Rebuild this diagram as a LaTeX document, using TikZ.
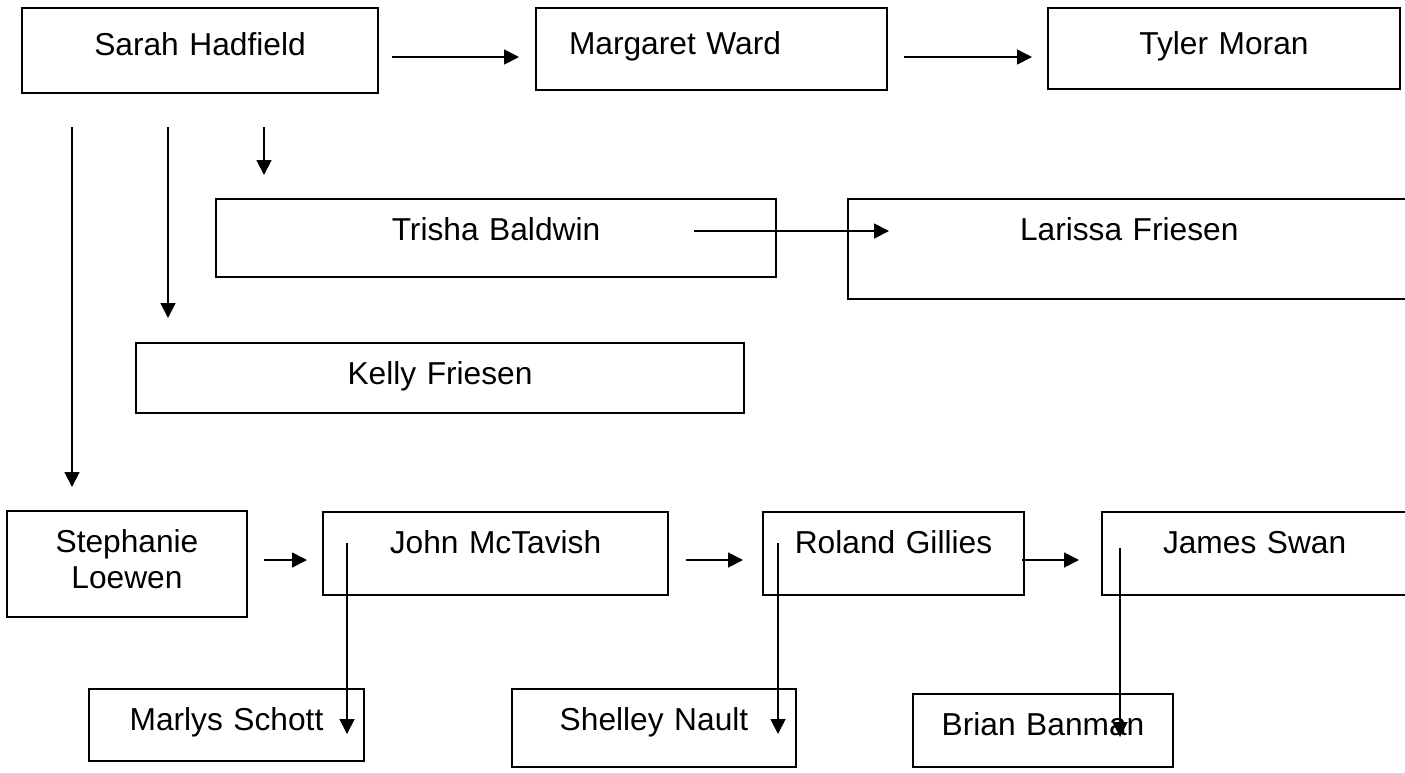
\documentclass[tikz,border=0pt]{standalone}
\usepackage{fontspec}
\setmainfont{Liberation Sans}
\usetikzlibrary{arrows.meta}
\newcommand{\namefont}{\fontsize{31.7}{36}\selectfont}
\tikzset{
  person/.style={draw, line width=1.8pt, anchor=north west, inner sep=0pt,
    outer sep=0pt, text height=41pt, align=center, font=\namefont},
  link/.style={line width=1.8pt, -{Triangle[length=15pt,width=15pt]}}
}

\begin{document}
\begin{tikzpicture}[x=1pt,y=-1pt]
\fill[white] (0,0) rectangle (1405,772);
\clip (0,0) rectangle (1405,772);
% top row
\node[person, text width=356pt, text height=47pt, text depth=38pt] (sarah) at (22,8) {Sarah Hadfield};
\node[person, text width=351pt, text height=46pt, text depth=36pt, align=left] (margaret) at (536,8) {\hspace*{33pt}Margaret Ward};
\node[person, text width=352pt, text height=46pt, text depth=35pt] (tyler) at (1048,8) {Tyler Moran};
% middle
\node[person, text width=560pt, text depth=37pt] (trisha) at (216,199) {Trisha Baldwin};
\node[person, text width=620pt, text depth=59pt, align=left] (larissa) at (848,199) {\hspace*{172pt}Larissa Friesen};
\node[person, text width=608pt, text depth=29pt] (kelly) at (136,343) {Kelly Friesen};
% bottom rows
\node[person, text width=240pt, text depth=65pt] (stephanie) at (7,511) {Stephanie\\Loewen};
\node[person, text width=345pt, text depth=42pt] (john) at (323,512) {John McTavish};
\node[person, text width=261pt, text depth=42pt] (roland) at (763,512) {Roland Gillies};
\node[person, text width=360pt, text depth=42pt, align=left] (james) at (1102,512) {\hspace*{61pt}James Swan};
\node[person, text width=275pt, text depth=31pt] (marlys) at (89,689) {Marlys Schott};
\node[person, text width=284pt, text depth=37pt] (shelley) at (512,689) {Shelley Nault};
\node[person, text width=260pt, text depth=32pt] (brian) at (913,694) {Brian Banman};

\draw[link] ([shift={(14,49)}]sarah.north east) -- ([shift={(-17,49)}]margaret.north west);
\draw[link] ([shift={(17,49)}]margaret.north east) -- ([shift={(-16,49)}]tyler.north west);
\draw[link] ([shift={(50,34)}]sarah.south west) -- ([shift={(65,-24)}]stephanie.north west);
\draw[link] ([shift={(146,34)}]sarah.south west) -- ([shift={(32,-25)}]kelly.north west);
\draw[link] ([shift={(242,34)}]sarah.south west) -- ([shift={(48,-24)}]trisha.north west);
\draw[link] ([shift={(-82,32)}]trisha.north east) -- ([shift={(41,32)}]larissa.north west);
\draw[link] ([shift={(17,49)}]stephanie.north east) -- ([shift={(-16,48)}]john.north west);
\draw[link] ([shift={(18,48)}]john.north east) -- ([shift={(-20,48)}]roland.north west);
\draw[link] ([shift={(-2,48)}]roland.north east) -- ([shift={(-23,48)}]james.north west);
% drops to the lowest row
\draw[link] ([shift={(24,31)}]john.north west) -- ([shift={(-17,45)}]marlys.north east);
\draw[link] ([shift={(15,31)}]roland.north west) -- ([shift={(-18,45)}]shelley.north east);
\draw[link] ([shift={(18,36)}]james.north west) -- ([shift={(207,43)}]brian.north west);
\end{tikzpicture}
\end{document}
